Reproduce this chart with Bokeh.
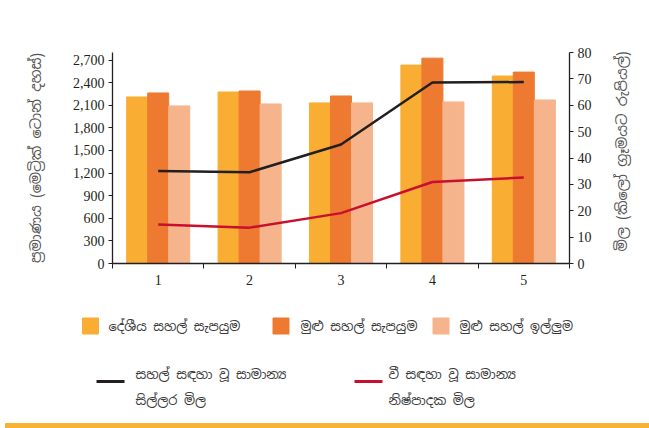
import math
from bokeh.plotting import figure
from bokeh.models import (Range1d, LinearAxis, FixedTicker, NumeralTickFormatter,
                          ColumnDataSource)
from bokeh.layouts import column, row
from bokeh.transform import dodge
from bokeh.core.properties import value
from bokeh.embed import file_html
from bokeh.resources import INLINE

# ---- data ----
years = [1, 2, 3, 4, 5]
local_supply = [2210, 2276, 2131, 2633, 2488]
total_supply = [2263, 2289, 2223, 2725, 2540]
total_demand = [2091, 2117, 2131, 2144, 2170]
retail_price = [35.1, 34.6, 45.1, 68.6, 68.8]
producer_price = [14.8, 13.6, 19.1, 30.9, 32.6]
left_ticks = [0, 300, 600, 900, 1200, 1500, 1800, 2100, 2400, 2700]
right_ticks = [0, 10, 20, 30, 40, 50, 60, 70, 80]

names_bar = ["දේශීය සහල් සැපයුම", "මුළු සහල් සැපයුම", "මුළු සහල් ඉල්ලුම"]
names_line = ["සහල් සඳහා වූ සාමාන්‍ය\nසිල්ලර මිල", "වී සඳහා වූ සාමාන්‍ය\nනිෂ්පාදක මිල"]
left_title = "ප්‍රමාණය (මෙට්‍රික් ටොන් දහස්)"
right_title = "මිල (කිලෝ ග්‍රෑමයට රුපියල්)"

C_Y = "#F9AE33"
C_O = "#EE7A31"
C_L = "#F5B48B"
C_K = "#231F20"
C_R = "#C8102E"
C_T = "#3a3a3a"
C_AX = "#555555"
SIN = "Noto Sans Sinhala, Noto Sans, sans-serif"
SERIF = "Liberation Serif"

p = figure(width=606, height=300, output_backend="svg", toolbar_location=None,
           x_range=Range1d(0.5, 5.5), y_range=Range1d(0, 2800),
           min_border_left=112, min_border_right=37, min_border_top=52,
           min_border_bottom=37)
p.frame_align = False
p.outline_line_color = None
p.grid.visible = False
p.background_fill_color = "white"
p.border_fill_color = "white"

cds = ColumnDataSource(dict(x=years, a=local_supply, b=total_supply, c=total_demand,
                            r=retail_price, q=producer_price))
w = 0.23
p.vbar(x=dodge("x", -w, range=p.x_range), top="a", width=w, source=cds, color=C_Y)
p.vbar(x=dodge("x", 0, range=p.x_range), top="b", width=w, source=cds, color=C_O)
p.vbar(x=dodge("x", w, range=p.x_range), top="c", width=w, source=cds, color=C_L)

p.extra_y_ranges = {"price": Range1d(0, 80)}
p.line("x", "r", source=cds, y_range_name="price", color=C_K, line_width=2.5)
p.line("x", "q", source=cds, y_range_name="price", color=C_R, line_width=2.5)


def style_axis(ax):
    ax.axis_line_color = C_K
    ax.axis_line_width = 1.3
    ax.major_tick_line_color = C_K
    ax.minor_tick_line_color = C_K
    ax.major_tick_in = 0
    ax.major_tick_out = 4
    ax.minor_tick_in = 0
    ax.minor_tick_out = 0
    ax.major_label_text_font = SERIF
    ax.major_label_text_font_size = "14px"
    ax.major_label_text_color = C_K
    ax.axis_label_text_font = SIN
    ax.axis_label_text_font_size = "14.5px"
    ax.axis_label_text_font_style = "normal"
    ax.axis_label_text_color = C_AX


xa = p.xaxis[0]
xa.ticker = FixedTicker(ticks=years, minor_ticks=[0.5, 1.5, 2.5, 3.5, 4.5, 5.5])
style_axis(xa)
xa.major_tick_out = 0
xa.minor_tick_out = 5
xa.major_label_standoff = 6

ya = p.yaxis[0]
ya.ticker = FixedTicker(ticks=left_ticks)
ya.formatter = NumeralTickFormatter(format="0,0")
style_axis(ya)
ya.axis_label = left_title
ya.axis_label_standoff = 25
ya.major_label_standoff = 4

ra = LinearAxis(y_range_name="price", ticker=FixedTicker(ticks=right_ticks))
style_axis(ra)
ra.major_label_standoff = 4
p.add_layout(ra, "right")

# ---- right title strip (data coords = canvas pixels, y measured upward) ----
rt = figure(width=43, height=300, output_backend="svg", toolbar_location=None,
            x_range=Range1d(606, 649), y_range=Range1d(0, 300), min_border=0)
rt.frame_align = False
rt.axis.visible = False
rt.grid.visible = False
rt.outline_line_color = None
rt.text(x=[621], y=[300 - 151], text=[right_title], angle=math.pi / 2,
        text_font=value(SIN), text_font_size="14.5px", text_color=C_AX,
        text_align="center", text_baseline="middle")

# ---- legend figure (data coords = canvas pixels) ----
lg = figure(width=649, height=128, output_backend="svg", toolbar_location=None,
            x_range=Range1d(0, 649), y_range=Range1d(428, 300),
            min_border=0)
lg.frame_align = False
lg.axis.visible = False
lg.grid.visible = False
lg.outline_line_color = None

lg.rect(x=[90, 280.5, 440.5], y=[325.5] * 3, width=16, height=16,
        color=[C_Y, C_O, C_L])
lg.text(x=[108, 300, 459], y=[326] * 3, text=names_bar,
        text_font=value(SIN), text_font_size="13px", text_color=C_T,
        text_baseline="middle")
lg.segment(x0=[96, 354], y0=[381, 381], x1=[124, 382], y1=[381, 381],
           color=[C_K, C_R], line_width=3)
lg.text(x=[135, 388], y=[387, 387], text=names_line,
        text_font=value(SIN), text_font_size="13px", text_color=C_T,
        text_baseline="middle", text_line_height=1.55)
lg.quad(left=5, right=649, top=423, bottom=428, color="#F9B233")

layout = column(row(p, rt, spacing=0), lg, spacing=0)
open("out.html", "w").write(file_html(layout, INLINE))
